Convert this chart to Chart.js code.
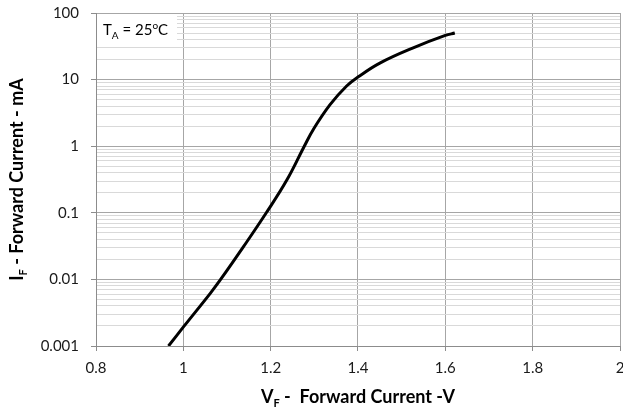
<!DOCTYPE html>
<html>
<head>
<meta charset="utf-8">
<script src="https://cdn.jsdelivr.net/npm/chart.js@4.4.1/dist/chart.umd.min.js"></script>
<style>
  html, body { margin: 0; padding: 0; background: #ffffff; }
  #wrap { width: 623px; height: 412px; position: relative; }
</style>
</head>
<body>
<div id="wrap"><canvas id="c"></canvas></div>
<script>
// ---- data ----
const forwardVoltage = [0.966, 1.0007, 1.0617, 1.0846, 1.1378, 1.19, 1.237, 1.277, 1.298, 1.336, 1.374, 1.4007, 1.45, 1.5264, 1.6, 1.6217];
const forwardCurrent = [0.001, 0.00195, 0.00618, 0.0098, 0.031, 0.1, 0.31, 1.0, 1.8, 4.2, 8.0, 11.0, 17.7, 30.0, 46.0, 50];
const xTickValues = [0.8, 1.0, 1.2, 1.4, 1.6, 1.8, 2.0];
const xTickLabels = ['0.8', '1', '1.2', '1.4', '1.6', '1.8', '2'];
const yDecades = [0.001, 0.01, 0.1, 1, 10, 100];
const yTickLabels = ['0.001', '0.01', '0.1', '1', '10', '100'];
const annotationText = { main: 'T', sub: 'A', mid: ' = 25', sup: 'o', end: 'C' };
const xTitle = { main: 'V', sub: 'F', rest: ' -  Forward Current -V' };
const yTitle = { main: 'I', sub: 'F', rest: ' - Forward Current - mA' };

const FONT = 'Lato, "Open Sans", "DejaVu Sans", sans-serif';

// minor + major y gridline values
const yGridValues = [];
for (let i = 0; i < yDecades.length - 1; i++) {
  for (let k = 1; k <= 9; k++) yGridValues.push(k * yDecades[i]);
}
yGridValues.push(yDecades[yDecades.length - 1]);

function isDecade(v) {
  const l = Math.log10(v);
  return Math.abs(l - Math.round(l)) < 1e-9;
}
function decadeLabel(v) {
  for (let i = 0; i < yDecades.length; i++) {
    if (Math.abs(Math.log10(v) - Math.log10(yDecades[i])) < 1e-9) return yTickLabels[i];
  }
  return '';
}

function drawRich(ctx, parts, x, y) {
  let total = 0;
  parts.forEach(p => { ctx.font = p.font; total += ctx.measureText(p.t).width; });
  let cx = x - total / 2;
  parts.forEach(p => {
    ctx.font = p.font;
    ctx.fillText(p.t, cx, y + (p.dy || 0));
    cx += ctx.measureText(p.t).width;
  });
}

const overlayPlugin = {
  id: 'overlay',
  beforeDatasetsDraw(chart) {
    const ctx = chart.ctx;
    const area = chart.chartArea;
    ctx.save();
    ctx.fillStyle = '#ffffff';
    ctx.fillRect(area.left + 1, area.top + 1, 80, 30);
    ctx.fillStyle = '#000000';
    ctx.textBaseline = 'alphabetic';
    let x = area.left + 7;
    const base = area.top + 22;
    const parts = [
      { t: annotationText.main, font: '15px ' + FONT, dy: 0 },
      { t: annotationText.sub, font: '10px ' + FONT, dy: 4 },
      { t: annotationText.mid, font: '15px ' + FONT, dy: 0 },
      { t: annotationText.sup, font: '10px ' + FONT, dy: -6 },
      { t: annotationText.end, font: '15px ' + FONT, dy: 0 }
    ];
    parts.forEach(p => {
      ctx.font = p.font;
      ctx.fillText(p.t, x, base + p.dy);
      x += ctx.measureText(p.t).width;
    });
    ctx.restore();
  },
  afterDraw(chart) {
    const ctx = chart.ctx;
    const area = chart.chartArea;
    ctx.save();
    ctx.fillStyle = '#000000';
    ctx.textBaseline = 'alphabetic';
    drawRich(ctx, [
      { t: xTitle.main, font: 'bold 18px ' + FONT },
      { t: xTitle.sub, font: 'bold 11px ' + FONT, dy: 4 },
      { t: xTitle.rest, font: 'bold 18px ' + FONT }
    ], (area.left + area.right) / 2, 403);
    ctx.translate(23, (area.top + area.bottom) / 2);
    ctx.rotate(-Math.PI / 2);
    drawRich(ctx, [
      { t: yTitle.main, font: 'bold 18px ' + FONT },
      { t: yTitle.sub, font: 'bold 11px ' + FONT, dy: 4 },
      { t: yTitle.rest, font: 'bold 18px ' + FONT }
    ], 0, 0);
    ctx.restore();
  }
};

new Chart(document.getElementById('c'), {
  type: 'line',
  data: {
    datasets: [{
      data: forwardVoltage.map((v, i) => ({ x: v, y: forwardCurrent[i] })),
      borderColor: '#000000',
      borderWidth: 3,
      pointRadius: 0,
      fill: false,
      tension: 0.4
    }]
  },
  options: {
    responsive: true,
    maintainAspectRatio: false,
    animation: false,
    layout: { padding: { top: 13, right: 3, left: 0, bottom: 0 } },
    plugins: { legend: { display: false }, tooltip: { enabled: false } },
    scales: {
      x: {
        type: 'linear',
        min: 0.8,
        max: 2.0,
        afterBuildTicks(scale) {
          scale.ticks = xTickValues.map(v => ({ value: v }));
        },
        afterFit(scale) {
          scale.height = 66;
          scale.paddingLeft = 0;
          scale.paddingRight = 0;
        },
        ticks: {
          autoSkip: false,
          maxRotation: 0,
          padding: 8,
          color: '#1a1a1a',
          font: { family: FONT, size: 15 },
          callback(value) {
            const i = xTickValues.findIndex(t => Math.abs(t - value) < 1e-9);
            return i >= 0 ? xTickLabels[i] : '';
          }
        },
        grid: { color: '#a6a6a6', lineWidth: 1, tickLength: 5, tickColor: '#8c8c8c' },
        border: { color: '#8c8c8c', width: 1 }
      },
      y: {
        type: 'logarithmic',
        min: 0.001,
        max: 100,
        afterBuildTicks(scale) {
          scale.ticks = yGridValues.map(v => ({ value: v, major: isDecade(v) }));
        },
        afterFit(scale) {
          scale.width = 96;
          scale.paddingTop = 0;
          scale.paddingBottom = 0;
        },
        ticks: {
          autoSkip: false,
          padding: 12,
          color: '#1a1a1a',
          font: { family: FONT, size: 15 },
          callback(value) { return isDecade(value) ? decadeLabel(value) : ''; }
        },
        grid: {
          color: ctx => (ctx.tick && isDecade(ctx.tick.value)) ? '#a6a6a6' : '#d9d9d9',
          tickColor: ctx => (ctx.tick && isDecade(ctx.tick.value)) ? '#8c8c8c' : 'rgba(0,0,0,0)',
          lineWidth: 1,
          tickLength: 5
        },
        border: { color: '#8c8c8c', width: 1 }
      }
    }
  },
  plugins: [overlayPlugin]
});
</script>
</body>
</html>
